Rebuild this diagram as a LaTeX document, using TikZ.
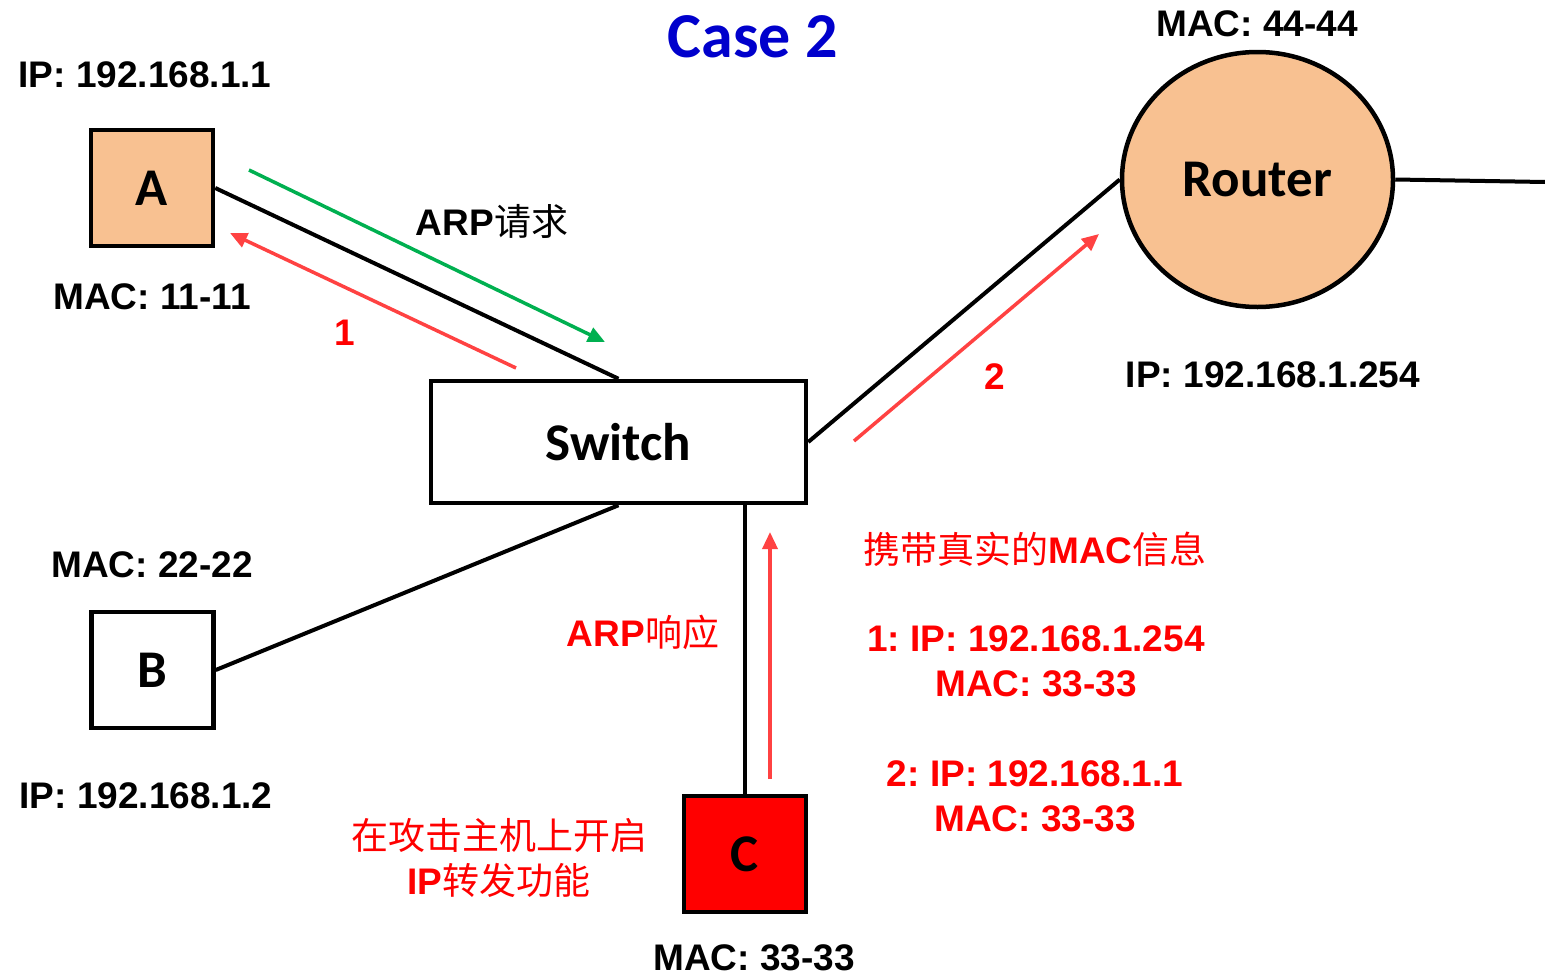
\documentclass[tikz,border=0pt]{standalone}
\usepackage{fontspec}
\setmainfont{Liberation Sans}
\newfontfamily\calibri{Carlito}
\newfontfamily\cjk{Noto Sans CJK SC}
\usepackage{xcolor}
\usetikzlibrary{arrows.meta,shapes.geometric}
\definecolor{arpred}{RGB}{255,66,66}
\definecolor{txtred}{RGB}{255,0,0}
\definecolor{arpgreen}{RGB}{0,176,80}
\definecolor{hostpeach}{RGB}{248,193,145}
\definecolor{titleblue}{RGB}{0,0,204}
\newcommand{\zhtxt}[1]{{\cjk\mdseries #1}}
\frenchspacing
\tikzset{
  hostbox/.style={draw,line width=4.5pt,minimum width=122,minimum height=116,
    inner sep=0pt,font=\calibri\bfseries\fontsize{53}{55}\selectfont},
  link/.style={line width=4pt},
  flow/.style={line width=3.5pt,-{Triangle[length=17pt,width=15pt]}},
  lbl/.style={inner sep=0pt,align=center,font=\bfseries\fontsize{37}{45}\selectfont}
}
\begin{document}
\begin{tikzpicture}[x=1pt,y=-1pt]
\useasboundingbox (0,0) rectangle (1545,980);
% title
\node[text=titleblue,font=\calibri\bfseries\fontsize{64}{66}\selectfont] (title) at (753,37) {Case 2};
% hosts, switch and router
\node[hostbox,fill=hostpeach] (A) at (152,188) {A};
\node[hostbox,fill=white] (B) at (152.5,670) {B};
\node[hostbox,fill=txtred] (C) at (745,854) {C};
\node[hostbox,minimum width=375,minimum height=122] (sw) at (618.5,442) {Switch};
\node[ellipse,draw,line width=4.5pt,fill=hostpeach,minimum width=271,minimum height=255,
  inner sep=0pt,font=\calibri\bfseries\fontsize{53}{55}\selectfont] (R) at (1257.5,179.5) {Router};
\coordinate (wan) at (1545,182);
% links
\draw[link] (A.east) -- (sw.north);
\draw[link] (sw.south) -- (B.east);
\draw[link] (sw.east) -- (R.west);
\draw[link] (C.north) -- (C.north |- sw.south);
\draw[link] (R.east) -- (wan);
% addresses
\node[lbl] (ipA) at (145,75) {IP: 192.168.1.1};
\node[lbl] (macA) at (152,297) {MAC: 11-11};
\node[lbl] (macB) at (152,565) {MAC: 22-22};
\node[lbl] (ipB) at (146,796) {IP: 192.168.1.2};
\node[lbl] (macC) at (754,958) {MAC: 33-33};
\node[lbl] (macR) at (1257,24) {MAC: 44-44};
\node[lbl] (ipR) at (1273,375) {IP: 192.168.1.254};
% packet flows
\coordinate (req0) at (249,170);
\coordinate (req1) at (605,342);
\coordinate (f1a) at (516,368);
\coordinate (f1b) at (230,233);
\coordinate (f2a) at (854,441);
\coordinate (f2b) at (1099,234);
\coordinate (rep0) at (770,779);
\coordinate (rep1) at (770,532);
\draw[flow,arpgreen] (req0) -- (req1);
\draw[flow,arpred] (f1a) -- (f1b);
\draw[flow,arpred] (f2a) -- (f2b);
\draw[flow,arpred] (rep0) -- (rep1);
\node[lbl] (req) at (492,221) {ARP\zhtxt{请求}};
\node[lbl,text=txtred] (n1) at (345,333) {1};
\node[lbl,text=txtred] (n2) at (995,377) {2};
\node[lbl,text=txtred] (rep) at (643,632) {ARP\zhtxt{响应}};
\node[lbl,text=txtred] (info) at (1035,549) {\zhtxt{携带真实的}MAC\zhtxt{信息}};
\node[lbl,text=txtred] (fake1) at (1036,661) {1: IP: 192.168.1.254\\MAC: 33-33};
\node[lbl,text=txtred] (fake2) at (1035,796) {2: IP: 192.168.1.1\\MAC: 33-33};
\node[lbl,text=txtred] (fwd) at (499,858) {\zhtxt{在攻击主机上开启}\\IP\zhtxt{转发功能}};
\end{tikzpicture}
\end{document}
